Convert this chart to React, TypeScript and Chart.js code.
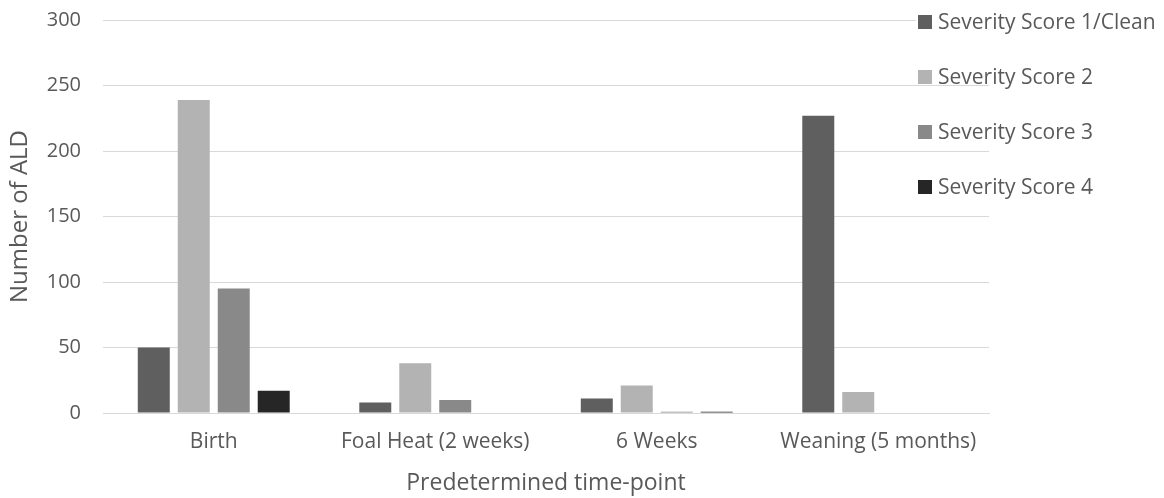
import React, { useEffect, useRef } from "react";
import { Chart, registerables } from "chart.js";

Chart.register(...registerables);

const categories = ["Birth", "Foal Heat (2 weeks)", "6 Weeks", "Weaning (5 months)"];
const seriesNames = ["Severity Score 1/Clean", "Severity Score 2", "Severity Score 3", "Severity Score 4"];
const score1 = [50, 8, 11, 227];
const score2 = [239, 38, 21, 16];
const score3 = [95, 10, 1, 0];
const score4 = [17, 0, 1, 0];
const seriesColors = ["#5f5f5f", "#b3b3b3", "#898989", "#262626"];
const yTicks = [0, 50, 100, 150, 200, 250, 300];

const FONT = "'Open Sans', sans-serif";
const TEXT = "#595959";

// Legend drawn at the right edge, over the plot area, one entry per row
const sideLegend = {
  id: "sideLegend",
  afterDraw(chart: Chart) {
    const ctx = chart.ctx;
    const x0 = 918;
    const box = 14;
    const rowTop = 22;
    const rowGap = 55;
    ctx.save();
    ctx.font = `21px ${FONT}`;
    ctx.textBaseline = "middle";
    ctx.textAlign = "left";
    chart.data.datasets.forEach((ds, i) => {
      const cy = rowTop + i * rowGap;
      const label = String(ds.label);
      const w = ctx.measureText(label).width;
      ctx.fillStyle = "#ffffff";
      ctx.fillRect(x0 - 2, cy - 9, box + 22 + w, 17);
      ctx.fillStyle = ds.backgroundColor as string;
      ctx.fillRect(x0, cy - box / 2, box, box);
      ctx.fillStyle = TEXT;
      ctx.fillText(label, x0 + box + 6, cy + 1);
    });
    ctx.restore();
  },
};

export default function App() {
  const canvasRef = useRef<HTMLCanvasElement | null>(null);

  useEffect(() => {
    document.body.style.margin = "0";
    const canvas = canvasRef.current;
    if (!canvas) return;
    const values = [score1, score2, score3, score4];
    const chart = new Chart(canvas, {
      type: "bar",
      data: {
        labels: categories,
        datasets: seriesNames.map((name, i) => ({
          label: name,
          data: values[i],
          backgroundColor: seriesColors[i],
          borderWidth: 0,
          categoryPercentage: 0.722,
          barPercentage: 0.8,
        })),
      },
      options: {
        animation: false,
        responsive: false,
        maintainAspectRatio: false,
        layout: { padding: { left: 0, right: 175, top: 20, bottom: 0 } },
        plugins: {
          legend: { display: false },
          tooltip: { enabled: false },
        },
        scales: {
          x: {
            grid: { display: false, drawTicks: false },
            border: { display: true, color: "#d9d9d9", width: 1 },
            ticks: { color: TEXT, font: { family: FONT, size: 21 }, padding: 16, maxRotation: 0 },
            title: {
              display: true,
              text: "Predetermined time-point",
              color: TEXT,
              font: { family: FONT, size: 23 },
              padding: { top: 0, bottom: 1 },
            },
            afterFit: (scale: any) => {
              scale.height = 85;
              scale.paddingLeft = 0;
              scale.paddingRight = 0;
            },
          },
          y: {
            min: 0,
            max: 300,
            afterBuildTicks: (scale: any) => {
              scale.ticks = yTicks.map((v) => ({ value: v }));
            },
            grid: { color: "#d9d9d9", lineWidth: 1, drawTicks: false },
            border: { display: false },
            ticks: { color: TEXT, font: { family: FONT, size: 20 }, padding: 22 },
            title: {
              display: true,
              text: "Number of ALD",
              color: TEXT,
              font: { family: FONT, size: 24 },
              padding: { top: 6, bottom: 0 },
            },
            afterFit: (scale: any) => {
              scale.width = 103;
              scale.paddingTop = 0;
              scale.paddingBottom = 0;
            },
          },
        },
      },
      plugins: [sideLegend],
    });
    return () => chart.destroy();
  }, []);

  return (
    <div style={{ width: 1164, height: 498, background: "#ffffff" }}>
      <canvas ref={canvasRef} width={1164} height={498} />
    </div>
  );
}
